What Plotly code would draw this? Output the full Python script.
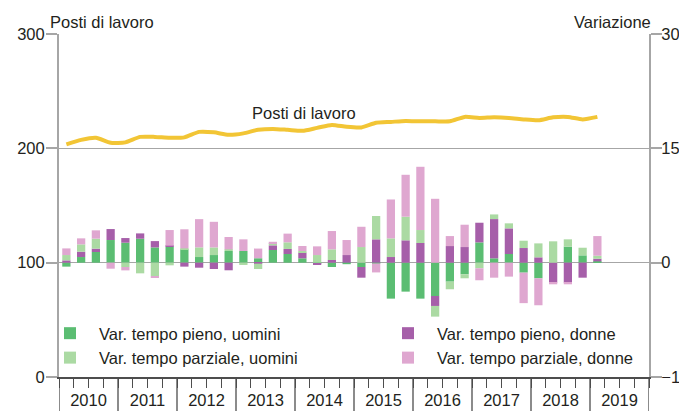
import plotly.graph_objects as go

# Quarterly periods 2010Q1 .. 2019Q1
years = list(range(2010, 2020))
quarters = [f"{2010 + i // 4}Q{i % 4 + 1}" for i in range(37)]
xpos = [2010 + (i + 0.5) / 4 for i in range(37)]

# Posti di lavoro (left axis)
posti = [203.5, 207.4, 209.2, 204.8, 205.2, 210.0, 210.0, 209.2, 209.6, 214.4,
         214.0, 211.8, 213.1, 216.2, 217.0, 216.2, 215.3, 217.9, 220.5, 218.8,
         218.3, 222.3, 223.1, 224.0, 223.6, 223.6, 223.6, 227.5, 226.6, 227.1,
         226.6, 225.3, 224.5, 227.1, 227.5, 225.3, 227.5]

# Variazioni (right axis)
pieno_uomini = [-0.52, 0.74, 1.40, 2.97, 2.62, 3.14, 2.00, 2.10, 1.75, 0.74,
                1.00, 1.53, 1.53, 0.58, 1.66, 1.14, 0.57, -0.10, -0.57, -0.20,
                -0.57, -0.10, -4.72, -3.80, -4.72, -4.37, -2.49, -1.53, 2.66, 0.57,
                1.14, -1.31, -2.05, 0.00, 2.10, 0.96, 0.17]
pieno_donne = [0.30, 0.70, 0.44, 1.44, 0.61, 0.70, 0.83, 0.13, -0.52, -0.66,
               -0.83, -1.00, 0.00, -0.13, 0.61, 0.66, 0.74, -0.17, 0.35, 1.00,
               -1.40, 3.06, 0.74, 2.93, 2.58, -1.31, 2.18, 2.05, 2.58, 5.15,
               3.36, 1.92, 0.70, -2.62, -2.62, -1.97, 0.35]
parziale_uomini = [0.70, 0.96, 1.31, 0.00, -0.57, -1.40, -1.75, -0.35, 0.13, 1.27,
                   1.00, 0.22, -0.30, -0.70, 0.30, 0.87, 0.22, 1.00, 1.40, 0.00,
                   2.05, 3.06, 2.45, 3.10, 1.70, -1.40, -1.00, -0.52, -0.74, 0.61,
                   0.66, 0.96, 1.83, 2.80, 0.96, 1.00, 0.39]
parziale_donne = [0.87, 0.79, 1.09, -0.79, -0.44, 0.00, -0.22, 2.05, 2.50, 3.70,
                  3.36, 1.62, 1.53, 1.27, 0.17, 1.14, 0.66, 1.14, 2.40, 1.97,
                  2.66, -1.18, 5.10, 5.50, 8.30, 8.38, 1.31, 2.93, -1.57, -1.97,
                  -1.83, -4.00, -3.54, -0.22, -0.22, 0.00, 2.58]

left_ticks = [0, 100, 200, 300]
right_ticks = [-15, 0, 15, 30]

FONT = "Liberation Sans, Arial, sans-serif"
FS = 16.5
C_GREEN = "#5bbd72"
C_LGREEN = "#abdaa3"
C_PURPLE = "#a65fa9"
C_PINK = "#dfa7d0"
C_LINE = "#f2c535"
C_GRID = "#a6a6a6"
C_TXT = "#231f20"

fig = go.Figure()

bar_specs = [
    ("Var. tempo pieno, uomini", pieno_uomini, C_GREEN, "legend"),
    ("Var. tempo pieno, donne", pieno_donne, C_PURPLE, "legend2"),
    ("Var. tempo parziale, uomini", parziale_uomini, C_LGREEN, "legend"),
    ("Var. tempo parziale, donne", parziale_donne, C_PINK, "legend2"),
]
for name, vals, col, leg in bar_specs:
    fig.add_trace(go.Bar(x=xpos, y=vals, name=name, marker=dict(color=col, line=dict(width=0)),
                         yaxis="y2", legend=leg, customdata=quarters))

fig.add_trace(go.Scatter(x=xpos, y=posti, mode="lines", name="Posti di lavoro",
                         line=dict(color=C_LINE, width=4, shape="spline", smoothing=0.6),
                         showlegend=False, yaxis="y"))

shapes = []
for yb in range(2010, 2021):
    shapes.append(dict(type="line", xref="x", yref="paper", x0=yb, x1=yb, y0=0, y1=-0.12,
                       line=dict(color="#4d4d4d", width=1.3)))

fig.update_layout(
    width=687, height=411,
    margin=dict(l=51, r=46, t=25.5, b=41.5),
    paper_bgcolor="white", plot_bgcolor="white",
    font=dict(family=FONT, size=FS, color=C_TXT),
    barmode="relative", bargap=0.44,
    xaxis=dict(range=[2010, 2020], tickmode="array", tickvals=[y + 0.5 for y in years],
               ticktext=[str(y) for y in years], ticks="outside", ticklen=9, tickwidth=1.2,
               tickcolor="#4d4d4d", showgrid=False, zeroline=False, automargin=False,
               showline=True, linecolor="#4d4d4d", linewidth=1.5, ticklabelstandoff=-2,
               minor=dict(tickmode="linear", tick0=2010, dtick=0.25, ticks="outside",
                          ticklen=9, tickwidth=1.2, tickcolor="#4d4d4d", showgrid=False),
               tickfont=dict(size=FS)),
    yaxis=dict(range=[0, 300], tickvals=left_ticks, ticks="outside", ticklen=11,
               tickcolor=C_GRID, tickwidth=1.5, showgrid=True, gridcolor=C_GRID, gridwidth=1.3,
               zeroline=False, showline=True, linecolor=C_GRID, linewidth=2, automargin=False,
               ticklabelstandoff=-2, tickfont=dict(size=FS)),
    yaxis2=dict(range=[-15, 30], tickvals=right_ticks, overlaying="y", side="right",
                ticks="outside", ticklen=11, tickcolor=C_GRID, tickwidth=1.5, automargin=False,
                showgrid=False, zeroline=False, showline=True, linecolor=C_GRID, linewidth=2,
                ticklabelstandoff=-4, tickfont=dict(size=FS)),
    legend=dict(x=-0.0305, y=0.178, xanchor="left", yanchor="top", bgcolor="rgba(0,0,0,0)",
                font=dict(size=FS), itemwidth=48, orientation="v"),
    legend2=dict(x=0.5424, y=0.178, xanchor="left", yanchor="top", bgcolor="rgba(0,0,0,0)",
                 font=dict(size=FS), itemwidth=48, orientation="v"),
    shapes=shapes,
    annotations=[
        dict(text="Posti di lavoro", xref="paper", yref="paper", x=-0.019, y=1.0,
             xanchor="left", yanchor="bottom", showarrow=False, font=dict(size=FS), yshift=1),
        dict(text="Variazione", xref="paper", yref="paper", x=1.006, y=1.0,
             xanchor="right", yanchor="bottom", showarrow=False, font=dict(size=FS), yshift=1),
        dict(text="Posti di lavoro", xref="x", yref="y", x=2014.15, y=230.5,
             showarrow=False, font=dict(size=FS)),
    ],
)

fig.write_html("out.html")
